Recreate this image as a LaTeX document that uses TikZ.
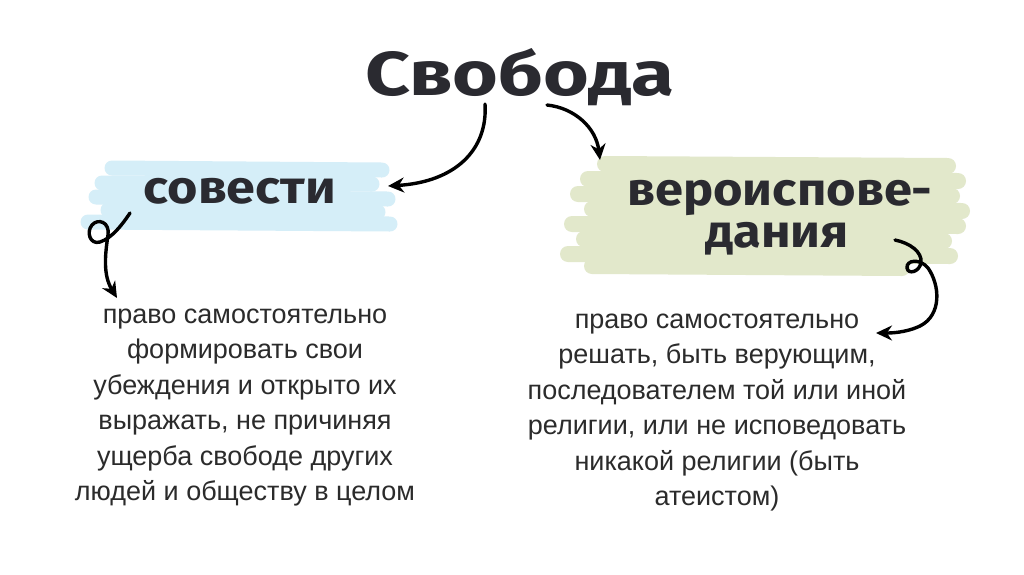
\documentclass[tikz,border=0pt]{standalone}
\usepackage{fontspec}
\setmainfont{Liberation Sans}
\newfontfamily\titlefont{Fira Sans}
\usetikzlibrary{arrows.meta}
\definecolor{ink}{HTML}{2A2A30}
\definecolor{bodyc}{HTML}{2B2B2B}
\definecolor{bluehl}{HTML}{D5EEF8}
\definecolor{greenhl}{HTML}{E2E8CB}
\tikzset{
  brushb/.style={line width=15pt, line cap=round, draw=bluehl},
  brushg/.style={line width=16pt, line cap=round, draw=greenhl},
  hand/.style={draw=black, line width=3.4pt, line cap=round, -{Stealth[length=16pt,width=15pt]}},
  bodytext/.style={align=center, text=bodyc, font=\fontsize{27pt}{35.5pt}\selectfont},
  headtext/.style={text=ink, font=\titlefont\bfseries\fontsize{46pt}{40pt}\selectfont, xscale=1.1, inner sep=0pt},
}
\begin{document}
\begin{tikzpicture}[x=1pt,y=-1pt]
\useasboundingbox[fill=white] (0,0) rectangle (1024,574);
% blue highlight
\draw[brushb] (112,168) -- (382,170);
\draw[brushb] (102,183) -- (372,184);
\draw[brushb] (96,197) -- (388,199);
\draw[brushb] (108,210) -- (378,212);
\draw[brushb] (88,222) -- (390,224);
% green highlight
\draw[brushg] (605,164) -- (948,166);
\draw[brushg] (588,179) -- (958,181);
\draw[brushg] (578,194) -- (952,196);
\draw[brushg] (592,209) -- (962,211);
\draw[brushg] (572,224) -- (958,226);
\draw[brushg] (584,239) -- (944,241);
\draw[brushg] (568,254) -- (950,256);
\draw[brushg] (592,266) -- (902,268);
% texts
\node[headtext, anchor=base, font=\titlefont\bfseries\fontsize{62pt}{60pt}\selectfont, xscale=1.15] (title) at (520,95) {Свобода};
\node[headtext, anchor=base, xscale=1.03] (sov) at (240,203) {совести};
\node[headtext, anchor=base] (ver) at (780,205) {вероиспове-};
\node[headtext, anchor=base] (dan) at (777,247) {дания};
\node[bodytext, anchor=north] (lt) at (245,305) {право самостоятельно\\формировать свои\\убеждения и открыто их\\выражать, не причиняя\\ущерба свободе других\\людей и обществу в целом};
\node[bodytext, anchor=north] (rt) at (717,310) {право самостоятельно\\решать, быть верующим,\\последователем той или иной\\религии, или не исповедовать\\никакой религии (быть\\атеистом)};
% arrows
\coordinate (a1s) at (485,104);
\coordinate (a1e) at (388,186);
\coordinate (a2s) at (547,105);
\coordinate (a2e) at (600,160);
\draw[hand] (a1s) .. controls (488,150) and (455,182) .. (a1e);
\draw[hand] (a2s) .. controls (575,108) and (596,128) .. (a2e);
\draw[hand] (130,213) .. controls (122,225) and (112,238) .. (100,242) .. controls (90,245) and (86,232) .. (92,225) .. controls (98,218) and (110,222) .. (108,235) .. controls (105,255) and (103,275) .. (117,298);
\draw[hand] (895,240) .. controls (910,243) and (922,252) .. (921,262) .. controls (920,272) and (908,275) .. (907,268) .. controls (906,260) and (920,258) .. (928,268) .. controls (940,285) and (942,315) .. (920,326) .. controls (905,333) and (890,333) .. (876,333);
\end{tikzpicture}
\end{document}
